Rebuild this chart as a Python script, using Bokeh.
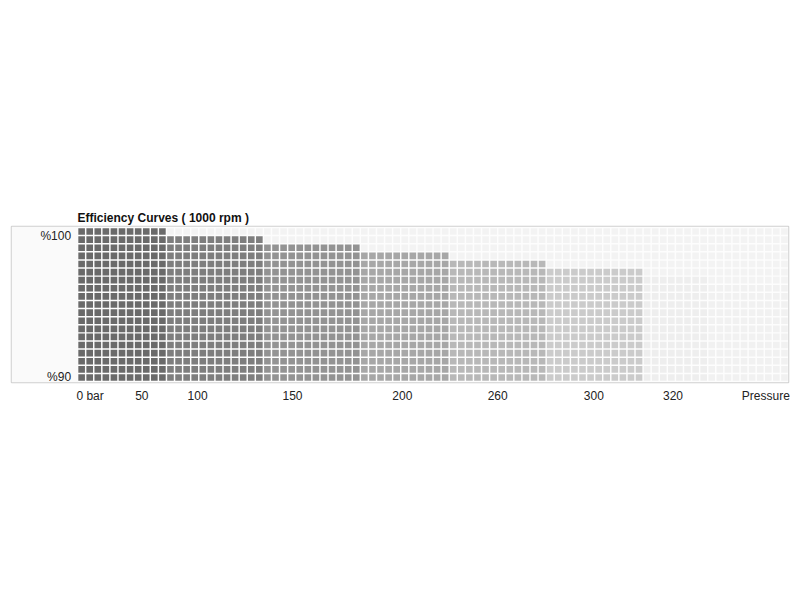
from bokeh.plotting import figure
from bokeh.models import Range1d, LinearAxis, FixedTicker, ColumnDataSource
from bokeh.core.properties import value
from bokeh.embed import file_html
from bokeh.resources import INLINE

# ---- data ----
title_text = "Efficiency Curves ( 1000 rpm )"
# pressure bands (columns of cells in each band) and efficiency height (rows of cells, %90..%100 = 19 rows)
band_cols = [11, 12, 12, 11, 12, 12, 8, 10]
band_rows = [19, 18, 17, 16, 15, 14, 13, 12]
band_colors = ["#6a6a6a", "#7e7e7e", "#939393", "#a7a7a7", "#b8b8b8", "#cbcbcb", "#eeeeee", "#f1f1f1"]
total_rows = 19
y_labels = ["%90", "%100"]
x_tick_pos = [1.55, 7.95, 14.85, 26.6, 40.2, 52.0, 63.9, 73.7, 85.2]
x_tick_labels = ["0 bar", "50", "100", "150", "200", "260", "300", "320", "Pressure"]

FONT = "Liberation Sans"
total_cols = sum(band_cols)
left_pad = 8.18  # width of label panel in cell units

# build cells
xs, ys, cs = [], [], []
start = 0
for ncol, nrow, col in zip(band_cols, band_rows, band_colors):
    for c in range(start, start + ncol):
        for r in range(total_rows):
            xs.append(c + 0.5)
            ys.append(r + 0.5)
            cs.append(col if r < nrow else "#f3f3f3")
    start += ncol
src = ColumnDataSource(dict(x=xs, y=ys, c=cs))

W, H = 792, 584
p = figure(width=W, height=H, output_backend="svg", toolbar_location=None,
           x_range=Range1d(-left_pad, total_cols), y_range=Range1d(-0.12, total_rows + 0.12),
           x_axis_type=None, y_axis_type=None,
           min_border_left=11, min_border_right=4, min_border_top=226, min_border_bottom=202)
p.grid.visible = False
p.background_fill_color = "#fbfbfb"
p.border_fill_color = "white"
p.outline_line_color = "#cfcfcf"
p.outline_line_width = 1.5

# left label panel
p.quad(left=[-left_pad], right=[0], bottom=[-0.12], top=[total_rows + 0.12],
       fill_color="#fafafa", line_color=None)
# grid area background (gaps)
p.quad(left=[0], right=[total_cols], bottom=[-0.12], top=[total_rows + 0.12],
       fill_color="#fdfdfd", line_color=None)

p.rect(x="x", y="y", width=0.82, height=0.82, fill_color="c", line_color=None, source=src)

# y labels
p.text(x=[-0.8, -0.8], y=[0.6, total_rows - 1.0], text=y_labels,
       text_align="right", text_baseline="middle",
       text_font=value(FONT), text_font_size="12px", text_color="#222222")

# x axis labels
ax = LinearAxis(ticker=FixedTicker(ticks=x_tick_pos))
ax.major_label_overrides = {t: l for t, l in zip(x_tick_pos, x_tick_labels)}
ax.axis_line_color = None
ax.major_tick_line_color = None
ax.minor_tick_line_color = None
ax.major_tick_out = 0
ax.major_tick_in = 0
ax.minor_tick_out = 0
ax.major_label_standoff = 6
ax.major_label_text_font = FONT
ax.major_label_text_font_size = "12px"
ax.major_label_text_color = "#222222"
p.add_layout(ax, "below")

# title
p.title.text = title_text
p.title.text_font = FONT
p.title.text_font_size = "12px"
p.title.text_font_style = "bold"
p.title.text_color = "#111111"
p.title.align = "left"
p.title.offset = 66
p.title.standoff = 4

open("out.html", "w").write(file_html(p, INLINE))
